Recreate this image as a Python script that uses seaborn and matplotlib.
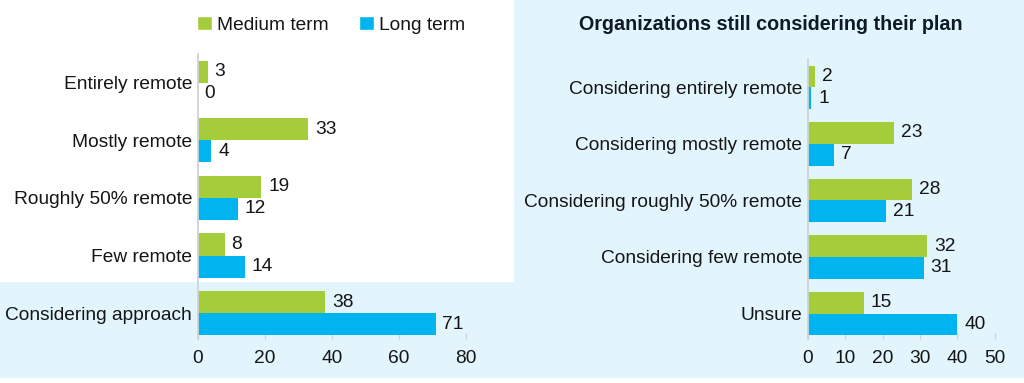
import pandas as pd
import seaborn as sns
import matplotlib.pyplot as plt
from matplotlib.patches import Rectangle, Patch

left_categories = ["Entirely remote", "Mostly remote", "Roughly 50% remote",
                   "Few remote", "Considering approach"]
left_medium = [3, 33, 19, 8, 38]
left_long = [0, 4, 12, 14, 71]

right_categories = ["Considering entirely remote", "Considering mostly remote",
                    "Considering roughly 50% remote", "Considering few remote", "Unsure"]
right_medium = [2, 23, 28, 32, 15]
right_long = [1, 7, 21, 31, 40]

terms = ["Medium term", "Long term"]
left_ticks = [0, 20, 40, 60, 80]
right_ticks = [0, 10, 20, 30, 40, 50]
title_right = "Organizations still considering their plan"

GREEN = "#a5cd3b"
BLUE = "#00b4ef"
BG = "#e2f5fc"
TXT = "#151515"

sns.set_style("white")
plt.rcParams['font.family'] = ['Liberation Sans', 'DejaVu Sans']
plt.rcParams['font.size'] = 13.8


def make_df(cats, med, lng):
    rows = []
    for c, m, l in zip(cats, med, lng):
        rows.append((c, terms[0], m))
        rows.append((c, terms[1], l))
    return pd.DataFrame(rows, columns=["category", "term", "value"])


fig = plt.figure(figsize=(10.24, 3.83), dpi=100)
W, H = 1024, 383

# background panels
fig.patches.append(Rectangle((0, 5 / H), 1, 1 - 5 / H, transform=fig.transFigure,
                             facecolor=BG, edgecolor='none', zorder=-10))
fig.patches.append(Rectangle((0, (H - 282) / H), 514 / W, 282 / H, transform=fig.transFigure,
                             facecolor='white', edgecolor='none', zorder=-9))


def draw_panel(ax, cats, med, lng, ticks, width):
    df = make_df(cats, med, lng)
    sns.barplot(data=df, y="category", x="value", hue="term", hue_order=terms,
                palette=[GREEN, BLUE], orient="h", width=width, errorbar=None,
                legend=False, ax=ax, saturation=1, linewidth=0)
    for cont in ax.containers:
        ax.bar_label(cont, fmt="%g", padding=5, color=TXT)
    ax.set_xlim(ticks[0], ticks[-1])
    ax.set_ylim(4.45, -0.5)
    ax.set_xticks(ticks)
    ax.set_xlabel("")
    ax.set_ylabel("")
    ax.patch.set_alpha(0)
    for s in ["top", "right", "bottom"]:
        ax.spines[s].set_visible(False)
    ax.spines["left"].set_color("#cfd3d6")
    ax.spines["left"].set_linewidth(1.3)
    ax.tick_params(axis="x", direction="in", length=4, width=1, color="#cfd3d6",
                   pad=8, labelcolor=TXT, bottom=True)
    ax.tick_params(axis="y", length=0, pad=4, labelcolor=TXT)


ax1 = fig.add_axes([197.7 / W, 44 / H, 268 / W, 285 / H])
draw_panel(ax1, left_categories, left_medium, left_long, left_ticks, 0.765)

ax2 = fig.add_axes([807.7 / W, 44 / H, 187 / W, 280 / H])
draw_panel(ax2, right_categories, right_medium, right_long, right_ticks, 0.768)

handles = [Patch(facecolor=GREEN, label=terms[0]), Patch(facecolor=BLUE, label=terms[1])]
fig.legend(handles=handles, loc="center left", bbox_to_anchor=(197 / W, (H - 25) / H),
           ncol=2, frameon=False, borderpad=0, borderaxespad=0,
           handlelength=0.78, handleheight=0.78, handletextpad=0.28,
           columnspacing=1.55, labelcolor=TXT)

fig.text(771 / W, (H - 25) / H, title_right, ha="center", va="center",
         fontweight="bold", color="#0f1a24", fontsize=14.2)

fig.savefig("out.png", dpi=100)
